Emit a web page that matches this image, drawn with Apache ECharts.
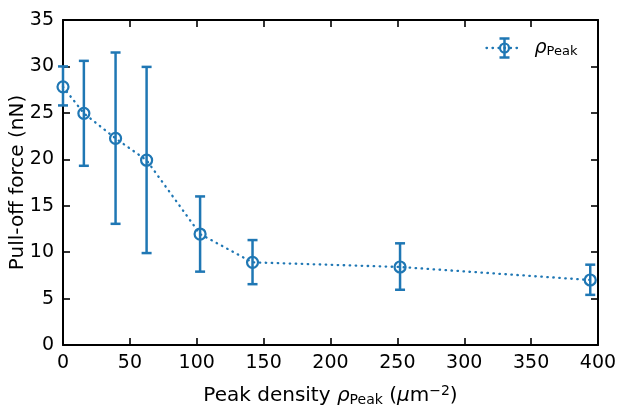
<!DOCTYPE html>
<html>
<head>
<meta charset="utf-8">
<script src="https://cdn.jsdelivr.net/npm/echarts@6/dist/echarts.min.js"></script>
<style>html,body{margin:0;padding:0;background:#fff}#c{width:619px;height:409px}</style>
</head>
<body>
<div id="c"></div>
<script>
const densities = [0, 15.6, 39.3, 62.5, 102.5, 141.7, 252, 394.2];
const forces    = [27.8, 24.95, 22.25, 19.9, 11.95, 8.9, 8.4, 7.0];
const errLow    = [25.8, 19.3, 13.05, 9.9, 7.9, 6.55, 5.95, 5.4];
const errHigh   = [30.0, 30.6, 31.5, 29.95, 16.0, 11.3, 10.95, 8.65];
const xTicks = [0, 50, 100, 150, 200, 250, 300, 350, 400];
const yTicks = [0, 5, 10, 15, 20, 25, 30, 35];

const C = '#1f77b4';
const FONT = 'DejaVu Sans';
const FS = 19;
const TFS = 20;
const chart = echarts.init(document.getElementById('c'));

const pts = densities.map((d, i) => [d, forces[i]]);
const errs = densities.map((d, i) => [d, errLow[i], errHigh[i]]);

function axisCommon() {
  return {
    axisLine: {show: true, onZero: false, lineStyle: {color: '#000', width: 2}},
    axisTick: {show: true, inside: true, length: 7, lineStyle: {color: '#000', width: 1.6}},
    splitLine: {show: false},
  };
}

chart.setOption({
  animation: false,
  backgroundColor: '#fff',
  grid: {left: 63, right: 21, top: 20, bottom: 64, containLabel: false, outerBoundsMode: 'none'},
  xAxis: [
    Object.assign({type: 'value', min: xTicks[0], max: xTicks[xTicks.length-1], interval: 50,
      axisLabel: {color: '#000', fontFamily: FONT, fontSize: FS, margin: 9, hideOverlap: false},
      name: 'Peak density {it|ρ}{sub|Peak} ({it|μ}m{sup|−2})', nameLocation: 'middle', nameGap: 39,
      nameTextStyle: {color: '#000', fontFamily: FONT, fontSize: TFS,
        rich: {it: {fontStyle: 'italic', fontFamily: FONT, fontSize: TFS, color: '#000'},
               sub: {fontFamily: FONT, fontSize: 14, color: '#000', verticalAlign: 'bottom', padding: [8,0,0,0]},
               sup: {fontFamily: FONT, fontSize: 14, color: '#000', verticalAlign: 'top', padding: [0,0,9,0]}}}
    }, axisCommon()),
    Object.assign({type: 'value', position: 'top', min: 0, max: 400, interval: 50, axisLabel: {show: false}}, axisCommon())
  ],
  yAxis: [
    Object.assign({type: 'value', min: yTicks[0], max: yTicks[yTicks.length-1], interval: 5,
      axisLabel: {color: '#000', fontFamily: FONT, fontSize: FS, margin: 9},
      name: 'Pull-off force (nN)', nameLocation: 'middle', nameGap: 35, nameRotate: 90, nameMoveOverlap: false,
      nameTextStyle: {color: '#000', fontFamily: FONT, fontSize: TFS}
    }, axisCommon()),
    Object.assign({type: 'value', position: 'right', min: 0, max: 35, interval: 5, axisLabel: {show: false}}, axisCommon())
  ],
  series: [
    {
      type: 'line', data: pts, clip: false,
      lineStyle: {color: C, width: 2.3, type: [0.5, 5.5], cap: 'round'},
      symbol: 'circle', symbolSize: 11, showSymbol: true,
      itemStyle: {color: 'rgba(255,255,255,0)', borderColor: C, borderWidth: 2.2, opacity: 1},
      z: 3
    },
    {
      type: 'custom', data: errs, clip: false, z: 2,
      renderItem: function (params, api) {
        const x = api.value(0);
        const lo = api.coord([x, api.value(1)]);
        const hi = api.coord([x, api.value(2)]);
        const w = 5;
        const st = {stroke: C, lineWidth: 2.5};
        return {type: 'group', children: [
          {type: 'line', shape: {x1: lo[0], y1: lo[1], x2: hi[0], y2: hi[1]}, style: st},
          {type: 'line', shape: {x1: lo[0]-w, y1: lo[1], x2: lo[0]+w, y2: lo[1]}, style: st},
          {type: 'line', shape: {x1: hi[0]-w, y1: hi[1], x2: hi[0]+w, y2: hi[1]}, style: st}
        ]};
      }
    }
  ],
  graphic: [
    {type: 'group', left: 484, top: 36, children: [
      {type: 'line', shape: {x1: 1, y1: 9.5, x2: 37, y2: 9.5}, style: {stroke: C, lineWidth: 2.3, lineDash: [0.5, 5.5], lineCap: 'round'}},
      {type: 'line', shape: {x1: 19, y1: 0, x2: 19, y2: 19}, style: {stroke: C, lineWidth: 2.5}},
      {type: 'line', shape: {x1: 14, y1: 0, x2: 24, y2: 0}, style: {stroke: C, lineWidth: 2.5}},
      {type: 'line', shape: {x1: 14, y1: 19, x2: 24, y2: 19}, style: {stroke: C, lineWidth: 2.5}},
      {type: 'circle', shape: {cx: 19, cy: 9.5, r: 4.5}, style: {fill: 'none', stroke: C, lineWidth: 2.2}},
      {type: 'text', x: 49, y: -1, style: {text: '{it|ρ}{sub|Peak}', fill: '#000',
        rich: {it: {fontStyle: 'italic', fontFamily: FONT, fontSize: FS, fill: '#000'},
               sub: {fontFamily: FONT, fontSize: 13, fill: '#000', verticalAlign: 'bottom', padding: [8,0,0,0]}}}}
    ]}
  ]
});
</script>
</body>
</html>
